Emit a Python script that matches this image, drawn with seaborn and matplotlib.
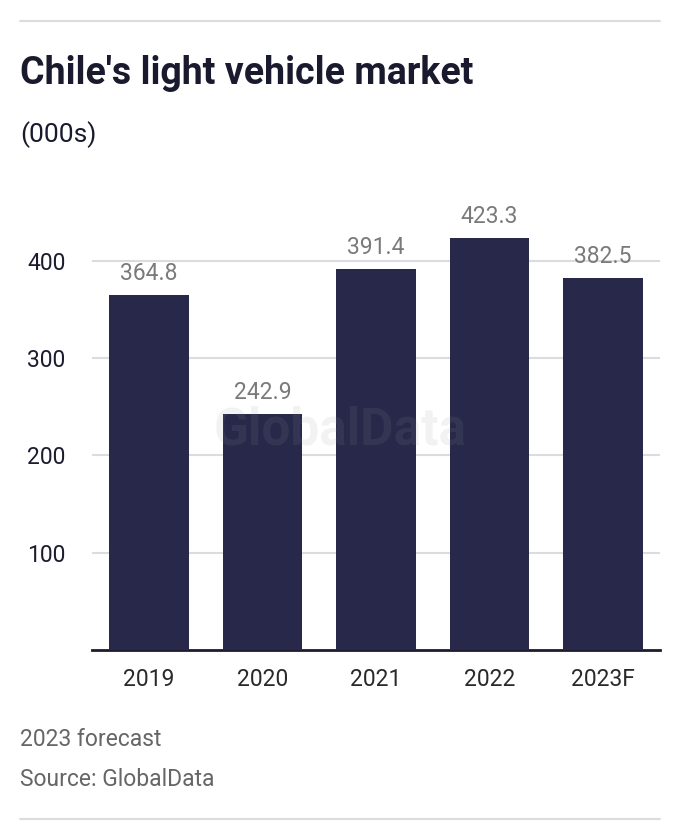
import matplotlib
matplotlib.use("Agg")
import matplotlib.pyplot as plt
import seaborn as sns
import pandas as pd
from matplotlib.lines import Line2D

categories = ["2019", "2020", "2021", "2022", "2023F"]
values = [364.8, 242.9, 391.4, 423.3, 382.5]
value_labels = ["364.8", "242.9", "391.4", "423.3", "382.5"]
y_ticks = [100, 200, 300, 400]

title = "Chile's light vehicle market"
subtitle = "(000s)"
note = "2023 forecast"
source = "Source: GlobalData"
watermark = "GlobalData"

sns.set_theme(style="white")
plt.rcParams['font.family'] = ['Roboto', 'DejaVu Sans']

W, H = 680, 840
fig = plt.figure(figsize=(W / 100, H / 100), dpi=100)
fig.patch.set_facecolor("white")

ax_left, ax_right, ax_bottom, ax_top = 92, 660, 650, 183
ax = fig.add_axes([ax_left / W, 1 - ax_bottom / H, (ax_right - ax_left) / W, (ax_bottom - ax_top) / H])

df = pd.DataFrame({"year": categories, "value": values})
sns.barplot(data=df, x="year", y="value", color="#27284a", saturation=1, width=0.7,
            linewidth=0, edgecolor="none", ax=ax, zorder=3)

ax.set_ylim(0, 480)
ax.set_xlim(-0.5, len(categories) - 0.5)
ax.set_yticks(y_ticks)
ax.set_yticklabels([str(t) for t in y_ticks])
ax.yaxis.grid(True, color="#dcdcdc", linewidth=1.5, zorder=0)
ax.xaxis.grid(False)
ax.set_axisbelow(True)
for s in ["left", "right", "top"]:
    ax.spines[s].set_visible(False)
ax.spines["bottom"].set_color("#1c1c2e")
ax.spines["bottom"].set_linewidth(2)
ax.set_xlabel("")
ax.set_ylabel("")
ax.tick_params(axis="y", length=0, pad=19, labelsize=16.5, labelcolor="#1c1c2e")
ax.tick_params(axis="x", length=0, pad=13, labelsize=16.5, labelcolor="#2a2a2a")
ax.set_facecolor("white")

for i, (v, lab) in enumerate(zip(values, value_labels)):
    ax.annotate(lab, xy=(i, v), xytext=(0, 7), textcoords="offset points",
                ha="center", va="bottom", fontsize=16.5, color="#7a7a7a", zorder=5)

# watermark
fig.text(340 / W, 1 - 431 / H, watermark, ha="center", va="center", fontsize=37,
         fontweight="bold", color="#999999", alpha=0.12, zorder=10)

fig.text(20 / W, 1 - 84 / H, title, ha="left", va="baseline", fontsize=27,
         fontweight="bold", color="#1a1a2e")
fig.text(20 / W, 1 - 142 / H, subtitle, ha="left", va="baseline", fontsize=19, color="#1a1a2e")
fig.text(20 / W, 1 - 746 / H, note, ha="left", va="baseline", fontsize=16.5, color="#666666")
fig.text(20 / W, 1 - 786 / H, source, ha="left", va="baseline", fontsize=16.5, color="#666666")

fig.add_artist(Line2D([20 / W, 660 / W], [1 - 21 / H, 1 - 21 / H], color="#dcdcdc", linewidth=1.5))
fig.add_artist(Line2D([20 / W, 660 / W], [1 - 819 / H, 1 - 819 / H], color="#dcdcdc", linewidth=1.5))

fig.savefig("out.png", dpi=100, facecolor="white")
